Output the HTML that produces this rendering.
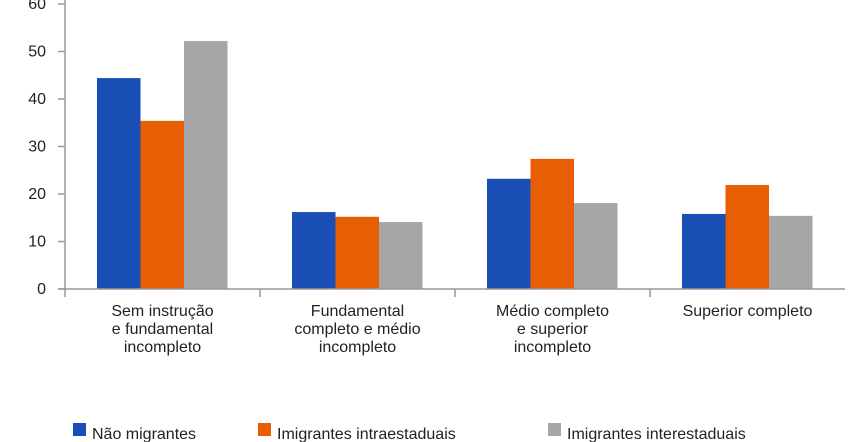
<!DOCTYPE html>
<html><head><meta charset="utf-8"><style>
body{margin:0;background:#fff;}
svg{display:block;font-family:"Liberation Sans",sans-serif;}
</style></head><body>
<svg id="c" width="850" height="442"></svg>
<script>
const categories=[["Sem instrução","e fundamental","incompleto"],["Fundamental","completo e médio","incompleto"],["Médio completo","e superior","incompleto"],["Superior completo"]];
const seriesNames=["Não migrantes","Imigrantes intraestaduais","Imigrantes interestaduais"];
const naoMigrantes=[44.4,16.2,23.2,15.8];
const intraestaduais=[35.4,15.2,27.4,21.9];
const interestaduais=[52.2,14.1,18.1,15.4];
const yTicks=[0,10,20,30,40,50,60];
const colors=["#1a4fb5","#e85e04","#a6a6a6"];
const series=[naoMigrantes,intraestaduais,interestaduais];
const NS="http://www.w3.org/2000/svg";
const svg=document.getElementById('c');
const x0=65,gw=195,y0=289,ppu=4.75,bw=43.5,off=32;
const y=v=>y0-v*ppu;
function mk(t,a,p){const e=document.createElementNS(NS,t);for(const k in a)e.setAttribute(k,a[k]);(p||svg).appendChild(e);return e;}
series.forEach((s,si)=>s.forEach((v,ci)=>{
 const r=mk('rect',{x:x0+ci*gw+off+si*bw,y:y(v),width:bw,height:y0-y(v),fill:colors[si]});
 
 
}));
const ax=mk('line',{x1:x0,y1:0,x2:x0,y2:y0,stroke:'#999','stroke-width':1.5});

const bx=mk('line',{x1:x0-7,y1:y0,x2:x0+gw*4,y2:y0,stroke:'#999','stroke-width':1.5});

yTicks.forEach(t=>{
 mk('line',{x1:x0-7,y1:y(t),x2:x0,y2:y(t),stroke:'#999','stroke-width':1.5});
 const tx=mk('text',{x:46,y:y(t)+5,'text-anchor':'end','font-size':16,fill:'#222'});
 tx.textContent=t;
 
});
categories.forEach((c,ci)=>{
 mk('line',{x1:x0+ci*gw,y1:y0,x2:x0+ci*gw,y2:y0+8,stroke:'#999','stroke-width':1.5});
 c.forEach((ln,li)=>{
  const tx=mk('text',{x:x0+ci*gw+gw/2,y:316+li*18,'text-anchor':'middle','font-size':16,fill:'#222'});
  tx.textContent=ln;
  
 });
});
const lx=[73,258,548];
seriesNames.forEach((n,i)=>{
 const g=mk('g',{});
 
 mk('rect',{x:lx[i],y:423,width:13,height:13,fill:colors[i]},g);
 const t=mk('text',{x:lx[i]+19,y:439,'font-size':16,fill:'#222'},g);t.textContent=n;
});
</script>
</body></html>
